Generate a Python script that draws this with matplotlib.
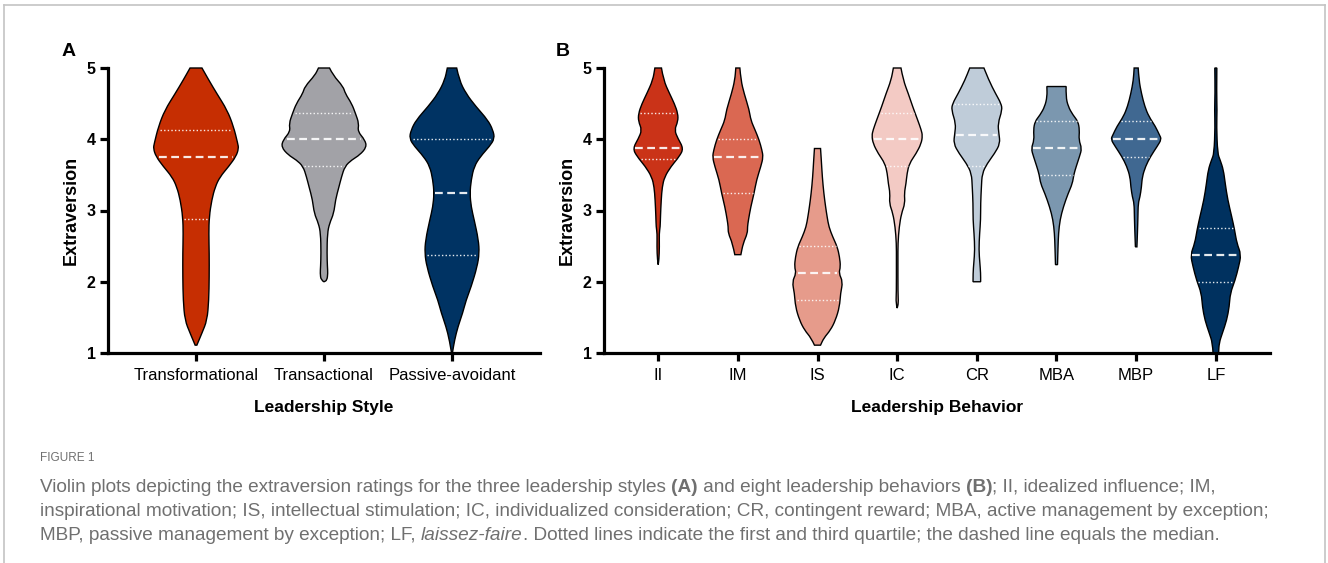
import numpy as np
import matplotlib.pyplot as plt
from matplotlib.path import Path
from matplotlib.patches import PathPatch
from matplotlib.lines import Line2D

plt.rcParams["font.family"] = ["Liberation Sans", "DejaVu Sans"]

# ===========================================
# DATA
# ===========================================

style_names = ["Transformational", "Transactional", "Passive-avoidant"]
style_colors = ["#C62E02", "#A2A2A7", "#003363"]
style_q3 = [4.125, 4.375, 4.0]
style_median = [3.75, 4.0, 3.25]
style_q1 = [2.875, 3.625, 2.375]

# violin outlines: rating level and relative density (1 = widest)
transformational_y = [5.0, 4.83, 4.64, 4.41, 4.18, 3.94, 3.87, 3.76, 3.62, 3.47, 3.33, 3.15,
                      2.91, 2.68, 2.40, 2.07, 1.74, 1.46, 1.28, 1.11]
transformational_w = [0.14, 0.30, 0.49, 0.73, 0.88, 0.98, 1.00, 0.94, 0.77, 0.56, 0.45, 0.37,
                      0.31, 0.30, 0.31, 0.31, 0.30, 0.26, 0.14, 0.02]

transactional_y = [5.0, 4.90, 4.74, 4.64, 4.50, 4.36, 4.22, 4.11, 3.99, 3.89, 3.78, 3.71,
                   3.62, 3.47, 3.33, 3.15, 2.96, 2.82, 2.68, 2.40, 2.21, 2.12, 2.02, 2.0]
transactional_w = [0.13, 0.21, 0.45, 0.50, 0.65, 0.74, 0.82, 0.79, 0.96, 1.00, 0.84, 0.65,
                   0.49, 0.41, 0.35, 0.27, 0.23, 0.13, 0.08, 0.07, 0.08, 0.09, 0.07, 0.0]

passive_y = [5.0, 4.83, 4.64, 4.46, 4.27, 4.13, 4.01, 3.90, 3.76, 3.62, 3.43, 3.24,
             3.05, 2.87, 2.59, 2.40, 2.21, 1.93, 1.74, 1.56, 1.37, 1.18, 1.0]
passive_w = [0.11, 0.17, 0.33, 0.56, 0.84, 0.96, 1.00, 0.88, 0.67, 0.52, 0.45, 0.42,
             0.45, 0.52, 0.62, 0.64, 0.59, 0.45, 0.33, 0.25, 0.14, 0.06, 0.01]

behavior_names = ["II", "IM", "IS", "IC", "CR", "MBA", "MBP", "LF"]
behavior_colors = ["#CA3318", "#DA6852", "#E69B8B", "#F3CAC4", "#BFCCD9", "#7B97AF",
                   "#406891", "#00315F"]
behavior_q3 = [4.375, 4.0, 2.5, 4.375, 4.5, 4.25, 4.25, 2.75]
behavior_median = [3.875, 3.75, 2.125, 4.0, 4.0625, 3.875, 4.0, 2.375]
behavior_q1 = [3.72, 3.25, 1.75, 3.625, 3.625, 3.5, 3.75, 2.0]

ii_y = [5.0, 4.83, 4.64, 4.50, 4.36, 4.25, 4.13, 4.01, 3.87, 3.76, 3.62, 3.47, 3.33,
        3.15, 2.91, 2.77, 2.68, 2.49, 2.31, 2.24]
ii_w = [0.13, 0.21, 0.45, 0.64, 0.78, 0.78, 0.64, 0.78, 1.00, 0.84, 0.51, 0.25, 0.16,
        0.12, 0.09, 0.08, 0.04, 0.05, 0.03, 0.0]

im_y = [5.0, 4.83, 4.64, 4.41, 4.27, 4.13, 3.99, 3.85, 3.75, 3.62, 3.43, 3.24, 3.05,
        2.87, 2.77, 2.68, 2.54, 2.38]
im_w = [0.08, 0.12, 0.25, 0.45, 0.51, 0.68, 0.84, 0.95, 1.00, 0.91, 0.74, 0.64, 0.51,
        0.42, 0.38, 0.38, 0.21, 0.12]

is_y = [3.87, 3.71, 3.47, 3.24, 3.05, 2.91, 2.77, 2.63, 2.49, 2.35, 2.21, 2.12, 2.0,
        1.84, 1.65, 1.46, 1.32, 1.21, 1.11]
is_w = [0.12, 0.15, 0.19, 0.25, 0.32, 0.38, 0.45, 0.60, 0.78, 0.87, 0.91, 0.84, 1.00,
        0.91, 0.87, 0.71, 0.51, 0.25, 0.12]

ic_y = [5.0, 4.83, 4.64, 4.46, 4.27, 4.13, 4.05, 3.94, 3.80, 3.66, 3.52, 3.38, 3.24,
        3.10, 2.96, 2.77, 2.54, 2.31, 1.84, 1.70, 1.63]
ic_w = [0.15, 0.24, 0.44, 0.61, 0.81, 0.95, 1.00, 0.95, 0.75, 0.48, 0.39, 0.35, 0.28,
        0.31, 0.17, 0.08, 0.03, 0.03, 0.03, 0.05, 0.0]

cr_y = [5.0, 4.83, 4.64, 4.50, 4.41, 4.22, 4.08, 3.94, 3.80, 3.66, 3.52, 3.33, 3.10,
        2.87, 2.68, 2.45, 2.26, 2.12, 2.0]
cr_w = [0.28, 0.47, 0.74, 0.96, 1.00, 0.83, 0.87, 0.92, 0.70, 0.41, 0.21, 0.18, 0.15,
        0.15, 0.11, 0.08, 0.12, 0.15, 0.15]

mba_y = [4.74, 4.60, 4.46, 4.34, 4.25, 4.13, 3.99, 3.87, 3.76, 3.62, 3.50, 3.38, 3.24,
         3.05, 2.87, 2.68, 2.49, 2.24]
mba_w = [0.38, 0.37, 0.46, 0.65, 0.85, 0.91, 0.88, 1.00, 0.91, 0.78, 0.68, 0.63, 0.46,
         0.27, 0.14, 0.08, 0.06, 0.04]

mbp_y = [5.0, 4.83, 4.64, 4.46, 4.32, 4.18, 4.06, 4.0, 3.90, 3.76, 3.62, 3.47, 3.33,
         3.19, 3.10, 2.91, 2.68, 2.49]
mbp_w = [0.08, 0.11, 0.21, 0.34, 0.50, 0.76, 0.92, 1.00, 0.83, 0.57, 0.37, 0.24, 0.21,
         0.15, 0.08, 0.07, 0.05, 0.03]

lf_y = [5.0, 4.64, 4.41, 4.18, 3.80, 3.71, 3.57, 3.38, 3.15, 2.91, 2.73, 2.54, 2.38,
        2.21, 2.02, 1.84, 1.65, 1.46, 1.28, 1.14, 1.0]
lf_w = [0.04, 0.03, 0.05, 0.03, 0.07, 0.17, 0.30, 0.37, 0.47, 0.63, 0.74, 0.83, 1.00,
        0.90, 0.76, 0.57, 0.53, 0.43, 0.26, 0.13, 0.11]

style_profiles = [(transformational_y, transformational_w),
                  (transactional_y, transactional_w),
                  (passive_y, passive_w)]
behavior_profiles = [(ii_y, ii_w), (im_y, im_w), (is_y, is_w), (ic_y, ic_w),
                     (cr_y, cr_w), (mba_y, mba_w), (mbp_y, mbp_w), (lf_y, lf_w)]


# ===========================================
# HELPERS
# ===========================================

def side(points, first):
    verts = [points[0]]
    codes = [Path.MOVETO if first else Path.LINETO]
    for i in range(1, len(points) - 1):
        verts += [points[i], (points[i] + points[i + 1]) / 2]
        codes += [Path.CURVE3, Path.CURVE3]
    verts.append(points[-1])
    codes.append(Path.LINETO)
    return verts, codes


def draw_violin(ax, x, ys, ws, scale, color, q1, med, q3):
    ys = np.asarray(ys, float)
    hw = np.asarray(ws, float) * scale
    right = np.column_stack([x + hw, ys])
    left = np.column_stack([x - hw, ys])[::-1]
    v1, c1 = side(right, True)
    v2, c2 = side(left, False)
    path = Path(v1 + v2 + [right[0]], c1 + c2 + [Path.CLOSEPOLY])
    ax.add_patch(PathPatch(path, facecolor=color, edgecolor="black",
                           linewidth=1.0, clip_on=False, zorder=2))
    for q, ls, lw in [(q1, (0, (1, 1.6)), 1.0), (q3, (0, (1, 1.6)), 1.0),
                      (med, (0, (3.5, 2)), 1.6)]:
        w = np.interp(q, ys[::-1], hw[::-1]) * 0.93
        ax.plot([x - w, x + w], [q, q], color="white", alpha=0.9,
                linestyle=ls, linewidth=lw, zorder=3)


def style_axes(ax, names, xmax, xlabel):
    ax.set_xlim(1 - (xmax - len(names)), xmax)
    ax.set_ylim(1, 5)
    ax.set_yticks([1, 2, 3, 4, 5])
    ax.set_xticks(range(1, len(names) + 1))
    ax.set_xticklabels(names, fontsize=12)
    for lab in ax.get_yticklabels():
        lab.set_fontweight("bold")
        lab.set_fontsize(11.5)
    for s in ["top", "right"]:
        ax.spines[s].set_visible(False)
    for s in ["left", "bottom"]:
        ax.spines[s].set_linewidth(2.3)
    ax.tick_params(width=2.3, length=6, pad=3)
    ax.tick_params(axis="x", pad=5)
    ax.set_ylabel("Extraversion", fontsize=13, fontweight="bold", labelpad=5)
    ax.set_xlabel(xlabel, fontsize=12.5, fontweight="bold", labelpad=12)


def put_runs(fig, x, y, runs, size, color):
    renderer = fig.canvas.get_renderer()
    for text, kw in runs:
        t = fig.text(x, y, text, fontsize=size, color=color, va="baseline", **kw)
        bb = t.get_window_extent(renderer)
        x += bb.width / fig.bbox.width


# ===========================================
# FIGURE
# ===========================================

fig = plt.figure(figsize=(13.28, 5.63), dpi=100)

axA = fig.add_axes([108 / 1328, 1 - 353 / 563, 432 / 1328, 285 / 563])
axB = fig.add_axes([604 / 1328, 1 - 353 / 563, 666 / 1328, 285 / 563])

for i, (ys, ws) in enumerate(style_profiles):
    draw_violin(axA, i + 1, ys, ws, 0.333, style_colors[i],
                style_q1[i], style_median[i], style_q3[i])

for i, (ys, ws) in enumerate(behavior_profiles):
    draw_violin(axB, i + 1, ys, ws, 0.318, behavior_colors[i],
                behavior_q1[i], behavior_median[i], behavior_q3[i])

style_axes(axA, style_names, 3.6875, "Leadership Style")
style_axes(axB, behavior_names, 8.68, "Leadership Behavior")

fig.text(62 / 1328, 1 - 51 / 563, "A", fontsize=14, fontweight="bold", va="center")
fig.text(556 / 1328, 1 - 51 / 563, "B", fontsize=14, fontweight="bold", va="center")

# frame round the figure
for xs, ys in [([4, 4], [563, 5]), ([4, 1325], [5, 5]), ([1325, 1325], [5, 563])]:
    fig.add_artist(Line2D([x / 1328 for x in xs], [1 - y / 563 for y in ys],
                          color="#c4c4c4", linewidth=1.2))

# caption
gray = "#707070"
fig.text(40 / 1328, 1 - 461 / 563, "FIGURE 1", fontsize=8.5, color=gray, va="baseline")
cap_size = 13.7
put_runs(fig, 40 / 1328, 1 - 492 / 563, [
    ("Violin plots depicting the extraversion ratings for the three leadership styles ", {}),
    ("(A)", {"fontweight": "bold"}),
    (" and eight leadership behaviors ", {}),
    ("(B)", {"fontweight": "bold"}),
    ("; II, idealized influence; IM,", {}),
], cap_size, gray)
put_runs(fig, 40 / 1328, 1 - 516 / 563, [
    ("inspirational motivation; IS, intellectual stimulation; IC, individualized "
     "consideration; CR, contingent reward; MBA, active management by exception;", {}),
], cap_size, gray)
put_runs(fig, 40 / 1328, 1 - 540 / 563, [
    ("MBP, passive management by exception; LF, ", {}),
    ("laissez-faire", {"fontstyle": "italic"}),
    (". Dotted lines indicate the first and third quartile; the dashed line equals the median.", {}),
], cap_size, gray)

fig.savefig("out.png", dpi=100)
